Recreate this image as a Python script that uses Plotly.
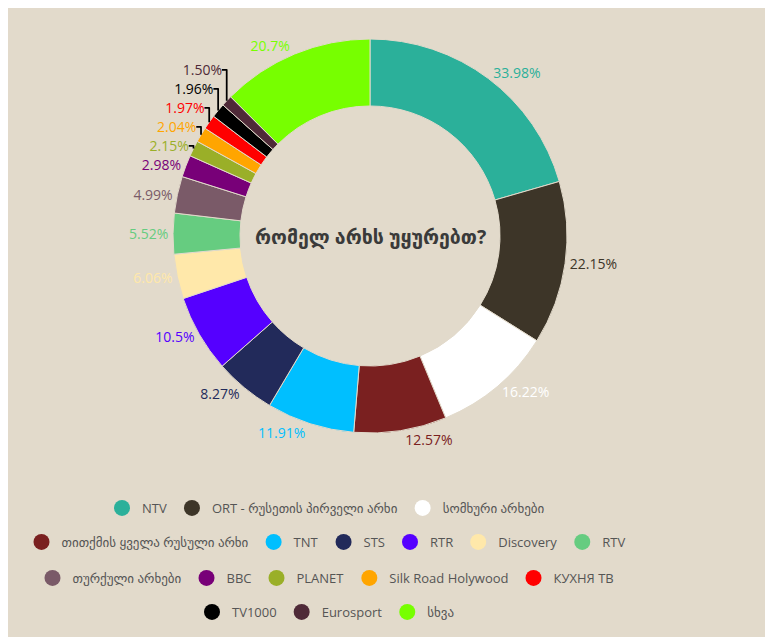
import plotly.graph_objects as go

channels = ["NTV", "ORT - რუსეთის პირველი არხი", "სომხური არხები",
            "თითქმის ყველა რუსული არხი", "TNT", "STS", "RTR", "Discovery", "RTV",
            "თურქული არხები", "BBC", "PLANET", "Silk Road Holywood", "КУХНЯ ТВ",
            "TV1000", "Eurosport", "სხვა"]
shares = [33.98, 22.15, 16.22, 12.57, 11.91, 8.27, 10.5, 6.06, 5.52,
          4.99, 2.98, 2.15, 2.04, 1.97, 1.96, 1.50, 20.7]
share_labels = ["33.98%", "22.15%", "16.22%", "12.57%", "11.91%", "8.27%", "10.5%",
                "6.06%", "5.52%", "4.99%", "2.98%", "2.15%", "2.04%", "1.97%",
                "1.96%", "1.50%", "20.7%"]
colors = ["#2BB09A", "#3D3528", "#FFFFFF", "#7A2020", "#00BFFF", "#222A5A",
          "#5500FF", "#FFE8AA", "#66CC80", "#7A5A68", "#780078", "#9AAF28",
          "#FFA500", "#FF0000", "#000000", "#4F2A38", "#77FF00"]
legend_rows = [[0, 1, 2], [3, 4, 5, 6, 7, 8], [9, 10, 11, 12, 13], [14, 15, 16]]
center_title = "რომელ არხს უყურებთ?"

BG = "#E2DACB"
W, H = 765, 629          # page body has 8px margin
OFF = 8
FONT = "Open Sans, DejaVu Sans, sans-serif"

cx, cy, r = 370 - OFF, 236 - OFF, 197

fig = go.Figure()
fig.add_trace(go.Pie(
    labels=channels, values=shares, text=share_labels, textinfo="text",
    textposition="outside", sort=False, direction="clockwise", rotation=0,
    hole=0.66, showlegend=False,
    marker=dict(colors=colors, line=dict(color=BG, width=1)),
    outsidetextfont=dict(color=colors, size=14, family=FONT),
    domain=dict(x=[(cx - r) / W, (cx + r) / W],
                y=[1 - (cy + r) / H, 1 - (cy - r) / H]),
    hoverinfo="label+text",
))

row_y = [508, 542, 578, 612]
legend_cfg = {}
for i, row in enumerate(legend_rows):
    lname = "legend" if i == 0 else f"legend{i+1}"
    for k in row:
        fig.add_trace(go.Scatter(
            x=[None], y=[None], mode="markers", name=channels[k],
            marker=dict(color=colors[k], size=16, symbol="circle"),
            legend=lname, hoverinfo="skip"))
    legend_cfg[lname] = dict(
        orientation="h", x=(326 - OFF) / W, xanchor="center",
        y=1 - (row_y[i] - OFF) / H, yanchor="middle",
        bgcolor="rgba(0,0,0,0)", font=dict(size=13, color="#555555", family=FONT),
        itemclick=False, itemdoubleclick=False)

fig.update_layout(
    width=W, height=H, margin=dict(l=0, r=0, t=0, b=0, autoexpand=False),
    paper_bgcolor=BG, plot_bgcolor="rgba(0,0,0,0)",
    xaxis=dict(visible=False), yaxis=dict(visible=False),
    annotations=[dict(text=f"<b>{center_title}</b>", x=cx / W, y=1 - cy / H,
                      xref="paper", yref="paper", showarrow=False,
                      font=dict(size=19.5, color="#3A3A3A", family=FONT))],
    **legend_cfg,
)

fig.write_html("out.html")
